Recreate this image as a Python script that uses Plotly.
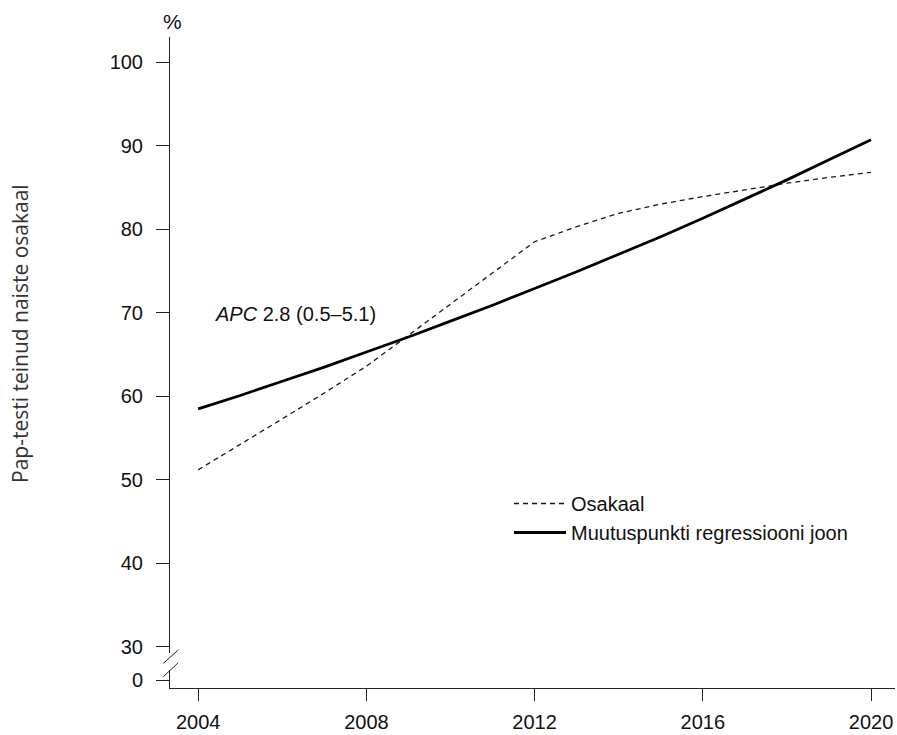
import plotly.graph_objects as go

# Pap-test coverage among women, 2004-2020
years = [2004, 2005, 2006, 2007, 2008, 2009, 2010, 2011, 2012,
         2013, 2014, 2015, 2016, 2017, 2018, 2019, 2020]
osakaal = [51.2, 54.2, 57.3, 60.4, 63.6, 67.3, 71.0, 74.8, 78.5,
           80.3, 81.9, 83.0, 83.9, 84.7, 85.5, 86.2, 86.8]
regression = [58.5, 60.1, 61.8, 63.5, 65.3, 67.1, 69.0, 70.9, 72.9,
              74.9, 77.0, 79.1, 81.3, 83.6, 85.9, 88.3, 90.7]

x_ticks = [2004, 2008, 2012, 2016, 2020]
y_ticks = [30, 40, 50, 60, 70, 80, 90, 100]
y_break_ticks = [0]

W, H = 897, 735
ML, MR, MT, MB = 170, 2, 37, 47
plot_w = W - ML - MR
plot_h = H - MT - MB


def px(xp):
    return (xp - ML) / plot_w


def py(yp):
    return (H - MB - yp) / plot_h


FONT = "Liberation Sans, Arial, sans-serif"

fig = go.Figure()
fig.add_trace(go.Scatter(
    x=years, y=osakaal, mode="lines", name="Osakaal",
    line=dict(color="#1a1a1a", width=1.3, dash="5px,4px"),
))
fig.add_trace(go.Scatter(
    x=years, y=regression, mode="lines", name="Muutuspunkti regressiooni joon",
    line=dict(color="#000000", width=2.8),
))
# keeps the short lower axis segment (0) in the layout
fig.add_trace(go.Scatter(x=[], y=[], xaxis="x", yaxis="y2",
                         showlegend=False, hoverinfo="skip"))

axis_common = dict(
    showgrid=False, zeroline=False, showline=True, linecolor="#222222",
    linewidth=1, ticks="outside", tickcolor="#222222", tickwidth=1,
    tickfont=dict(family=FONT, size=20, color="#111111"),
)

fig.update_layout(
    width=W, height=H,
    margin=dict(l=ML, r=MR, t=MT, b=MB, pad=0),
    paper_bgcolor="white", plot_bgcolor="white",
    xaxis=dict(range=[2003.33, 2020.57], tickvals=x_ticks, ticklen=12,
               ticklabelstandoff=4, anchor="y2", **axis_common),
    yaxis=dict(domain=[py(653), 1], range=[29.28, 103.0], tickvals=y_ticks,
               ticklen=13, ticklabelstandoff=9, anchor="x", **axis_common),
    yaxis2=dict(domain=[0, py(670)], range=[-0.8, 1.0], tickvals=y_break_ticks,
                ticklen=13, ticklabelstandoff=9, anchor="x", **axis_common),
    showlegend=True,
    legend=dict(x=px(509), y=py(484), xanchor="left", yanchor="top",
                bgcolor="rgba(0,0,0,0)", itemwidth=52, tracegroupgap=0,
                font=dict(family=FONT, size=20, color="#111111")),
    hovermode=False,
)

# axis break marks
for y0, y1 in [(663.3, 650.0), (676.7, 662.7)]:
    fig.add_shape(type="line", xref="paper", yref="paper",
                  x0=px(163.3), y0=py(y0), x1=px(178.3), y1=py(y1),
                  line=dict(color="#222222", width=1))

fig.add_annotation(x=px(172), y=py(22), xref="paper", yref="paper",
                   text="%", showarrow=False, xanchor="center", yanchor="middle",
                   font=dict(family=FONT, size=21, color="#111111"))
fig.add_annotation(x=px(20), y=py(334), xref="paper", yref="paper",
                   text="Pap-testi teinud naiste osakaal", textangle=-90,
                   showarrow=False, xanchor="center", yanchor="middle",
                   font=dict(family="Open Sans, sans-serif", size=21, color="#333333"))
fig.add_annotation(x=2004.35, y=69.9, xref="x", yref="y",
                   text="<i>APC</i> 2.8 (0.5–5.1)", showarrow=False,
                   xanchor="left", yanchor="middle",
                   font=dict(family=FONT, size=20, color="#111111"))

fig.write_html("out.html")
